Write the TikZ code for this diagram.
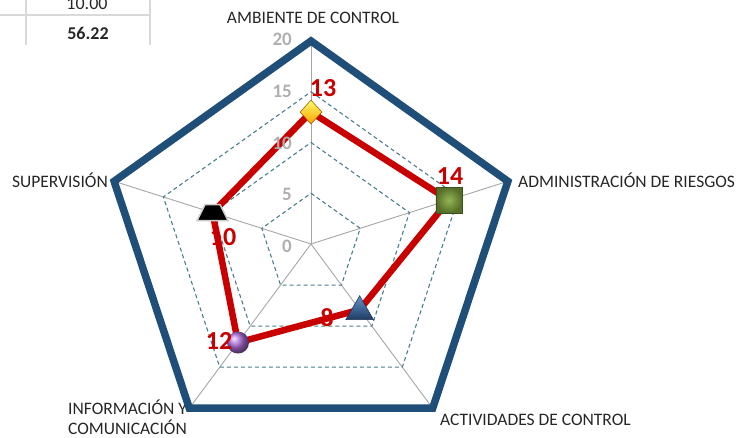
\documentclass[tikz,border=0pt]{standalone}
\usepackage{fontspec}
\setmainfont{Carlito}
\usetikzlibrary{shapes.geometric}
\definecolor{ringblue}{RGB}{31,78,121}
\definecolor{datared}{RGB}{200,0,0}
\definecolor{gridteal}{RGB}{75,125,140}
\definecolor{spokegray}{RGB}{166,166,166}
\definecolor{tickgray}{RGB}{175,175,175}
\definecolor{cellgray}{RGB}{217,217,217}
\tikzset{
        % Chart frame
        spoke/.style={draw=spokegray, line width=0.9pt},
        ring/.style={draw=gridteal, dash pattern=on 4pt off 3pt, line width=1.1pt},
        outer_ring/.style={draw=ringblue, line width=7.5pt, line join=miter},
        data_line/.style={draw=datared, line width=6.5pt, line join=round},
        cell_line/.style={draw=cellgray, line width=1.2pt},
        % Texts
        axis_name/.style={font=\fontsize{17.5}{20}\selectfont, text=black!85, inner sep=0pt},
        tick_label/.style={font=\bfseries\fontsize{19}{20}\selectfont, text=tickgray, anchor=east, inner sep=0pt},
        value_label/.style={font=\bfseries\fontsize{26}{26}\selectfont, text=datared, inner sep=0pt},
        cell_text/.style={font=\fontsize{18}{20}\selectfont, text=black!85, anchor=base, inner sep=0pt},
        % Markers
        mark_diamond/.style={diamond, inner sep=0pt, minimum width=22pt, minimum height=24pt, top color=yellow!60!white, bottom color=orange!75!yellow, draw=orange!60!black, line width=0.5pt},
        mark_square/.style={rectangle, inner sep=0pt, minimum size=26pt, inner color={rgb,255:red,150;green,180;blue,85}, outer color={rgb,255:red,85;green,110;blue,40}, draw={rgb,255:red,60;green,80;blue,30}, line width=0.5pt},
        mark_triangle/.style={regular polygon, regular polygon sides=3, inner sep=0pt, minimum size=32pt, top color={rgb,255:red,100;green,145;blue,200}, bottom color={rgb,255:red,30;green,60;blue,100}, draw={rgb,255:red,25;green,45;blue,80}, line width=0.5pt},
        mark_ball/.style={circle, inner sep=0pt, minimum size=22pt, ball color={rgb,255:red,175;green,110;blue,220}},
        mark_trap/.style={trapezium, trapezium stretches=true, trapezium angle=62, inner sep=2pt, minimum width=31pt, minimum height=16pt, fill=black, draw=gray!40, line width=1.5pt}
}
\begin{document}
\begin{tikzpicture}[x=1pt, y=1pt]
    \useasboundingbox (0,0) rectangle (745,-437);
    % piece of the worksheet table
    \draw[cell_line] (26,0) -- (26,-45);
    \draw[cell_line] (150,0) -- (150,-45);
    \draw[cell_line] (0,-15) -- (150,-15);
    \node[cell_text] (cell_a) at (87,-9) {10.00};
    \node[cell_text, font=\bfseries\fontsize{18}{20}\selectfont] (cell_b) at (88,-39) {56.22};
    % chart grid
    \begin{scope}[shift={(311,-244)}]
        \coordinate (c) at (0,0);
        \foreach \ang/\nm in {90/amb,18/adm,-54/act,234/inf,162/sup}{
            \foreach \v in {5,10,15,20}{
                \coordinate (\nm\v) at (\ang:{\v*207/20} and {\v*203/20});
            }
        }
        \coordinate (p_amb) at (90:{13*207/20} and {13*203/20});
        \coordinate (p_adm) at (18:{14*207/20} and {14*203/20});
        \coordinate (p_act) at (-54:{8*207/20} and {8*203/20});
        \coordinate (p_inf) at (234:{12*207/20} and {12*203/20});
        \coordinate (p_sup) at (162:{10*207/20} and {10*203/20});
    \end{scope}
    \draw[spoke] (c) -- (amb20);
    \draw[spoke] (c) -- (adm20);
    \draw[spoke] (c) -- (act20);
    \draw[spoke] (c) -- (inf20);
    \draw[spoke] (c) -- (sup20);
    \draw[ring] (amb5) -- (adm5) -- (act5) -- (inf5) -- (sup5) -- cycle;
    \draw[ring] (amb10) -- (adm10) -- (act10) -- (inf10) -- (sup10) -- cycle;
    \draw[ring] (amb15) -- (adm15) -- (act15) -- (inf15) -- (sup15) -- cycle;
    % category names
    \node[axis_name] (n_amb) at (313,-18) {AMBIENTE DE CONTROL};
    \node[axis_name, anchor=west] (n_adm) at (518,-180) {ADMINISTRACIÓN DE RIESGOS};
    \node[axis_name, anchor=west] (n_act) at (440,-420) {ACTIVIDADES DE CONTROL};
    \node[axis_name, anchor=west, align=left] (n_inf) at (68,-417) {INFORMACIÓN Y\\COMUNICACIÓN};
    \node[axis_name, anchor=east] (n_sup) at (108,-180) {SUPERVISIÓN};
    \draw[outer_ring] (amb20) -- (adm20) -- (act20) -- (inf20) -- (sup20) -- cycle;
    % data series
    \draw[data_line] (p_amb) -- (p_adm) -- (p_act) -- (p_inf) -- (p_sup) -- cycle;
    \node[mark_diamond] (m_amb) at (p_amb) {};
    \node[mark_square] (m_adm) at (p_adm) {};
    \node[mark_triangle] (m_act) at ([yshift=-2pt]p_act) {};
    \node[mark_ball] (m_inf) at (p_inf) {};
    \node[mark_trap] (m_sup) at (p_sup) {};
    % scale
    \node[tick_label] (t0) at (292,-246) {0};
    \node[tick_label] (t5) at (292,-194) {5};
    \node[tick_label] (t10) at (292,-143) {10};
    \node[tick_label] (t15) at (292,-91) {15};
    \node[tick_label] (t20) at (292,-39) {20};
    % values
    \node[value_label] (v_amb) at (323,-88) {13};
    \node[value_label] (v_adm) at (450,-176) {14};
    \node[value_label] (v_act) at (327,-318) {8};
    \node[value_label] (v_inf) at (219,-341) {12};
    \node[value_label] (v_sup) at (223,-237) {10};
\end{tikzpicture}
\end{document}
